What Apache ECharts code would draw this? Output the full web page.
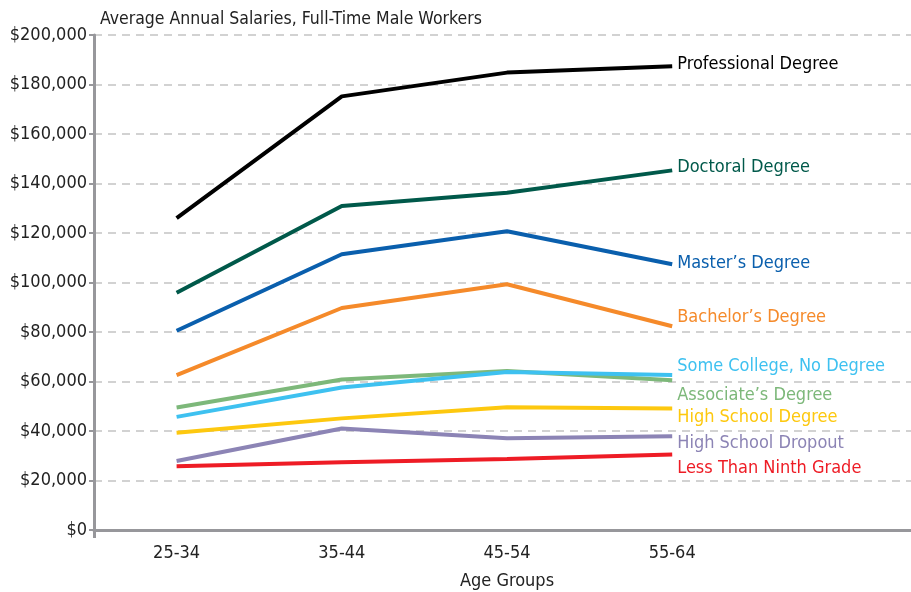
<!DOCTYPE html>
<html><head><meta charset="utf-8">
<script src="https://cdn.jsdelivr.net/npm/echarts@6/dist/echarts.min.js"></script>
<style>html,body{margin:0;padding:0;background:#fff}#c{width:911px;height:592px}</style>
</head><body><div id="c"></div>
<script>
const categories = ['25-34', '35-44', '45-54', '55-64', ''];
const professional = [126000, 175200, 184800, 187400];
const doctoral = [95900, 130900, 136300, 145300];
const masters = [80500, 111400, 120700, 107400];
const bachelors = [62600, 89700, 99300, 82300];
const associates = [49500, 60800, 64200, 60500];
const someCollege = [45700, 57600, 63800, 62600];
const hsDegree = [39300, 45100, 49600, 49100];
const dropout = [27900, 41000, 37100, 37900];
const ninth = [25800, 27400, 28700, 30500];
const yTicks = [0, 20000, 40000, 60000, 80000, 100000, 120000, 140000, 160000, 180000, 200000];

const FONT = '"Liberation Sans Narrow", "DejaVu Sans Condensed", "Liberation Sans", sans-serif';
const AXIS_GREY = '#97979b';
const seriesDefs = [
  ['Less Than Ninth Grade', ninth, '#ee1c25', 13.5],
  ['High School Dropout', dropout, '#8c84b5', 7.5],
  ['High School Degree', hsDegree, '#fdc80f', 8.5],
  ['Associate\u2019s Degree', associates, '#7db87a', 15.5],
  ['Some College, No Degree', someCollege, '#3ec1f0', -8.5],
  ['Bachelor\u2019s Degree', bachelors, '#f58a2a', -8.5],
  ['Master\u2019s Degree', masters, '#0a5fad', -1],
  ['Doctoral Degree', doctoral, '#00594a', -3.5],
  ['Professional Degree', professional, '#000000', -2]
];

const chart = echarts.init(document.getElementById('c'), null, {renderer: 'canvas'});
chart.setOption({
  animation: false,
  title: {
    text: 'Average Annual Salaries, Full-Time Male Workers',
    left: 95, top: 5,
    textStyle: {fontFamily: FONT, fontSize: 17.5, fontWeight: 'normal', color: '#222'}
  },
  grid: {left: 94, top: 35, width: 826, height: 495, containLabel: false, outerBoundsMode: 'none'},
  xAxis: [{
    type: 'category',
    data: categories,
    boundaryGap: true,
    name: 'Age Groups',
    nameLocation: 'middle',
    nameGap: 42,
    nameTextStyle: {fontFamily: FONT, fontSize: 18, color: '#222'},
    axisLine: {lineStyle: {color: AXIS_GREY, width: 3}},
    axisTick: {alignWithLabel: true, length: 8, interval: (i) => i < 4, lineStyle: {color: AXIS_GREY, width: 3}},
    axisLabel: {fontFamily: FONT, fontSize: 18, color: '#222', margin: 14},
    splitLine: {show: false}
  }, {
    type: 'category',
    position: 'bottom',
    data: ['', ''],
    boundaryGap: false,
    axisLine: {show: false},
    axisTick: {show: true, length: 8, interval: (i) => i === 0, lineStyle: {color: AXIS_GREY, width: 3}},
    axisLabel: {show: false},
    splitLine: {show: false}
  }],
  yAxis: {
    type: 'value',
    min: yTicks[0], max: yTicks[yTicks.length - 1], interval: 20000,
    axisLine: {show: true, lineStyle: {color: AXIS_GREY, width: 3}},
    axisTick: {show: true, length: 5, lineStyle: {color: AXIS_GREY, width: 2}},
    axisLabel: {fontFamily: FONT, fontSize: 18, color: '#222', margin: 7,
      formatter: v => '$' + v.toLocaleString('en-US')},
    splitLine: {show: true, lineStyle: {color: '#c4c4c4', width: 1.5, type: [8, 6]}}
  },
  series: seriesDefs.map(([name, data, color, dy]) => ({
    name, type: 'line', data, xAxisIndex: 0,
    symbol: 'none',
    lineStyle: {color, width: 4},
    itemStyle: {color},
    endLabel: {
      show: true, formatter: name, color, offset: [-3, dy],
      fontFamily: FONT, fontSize: 18
    }
  }))
});
</script></body></html>
